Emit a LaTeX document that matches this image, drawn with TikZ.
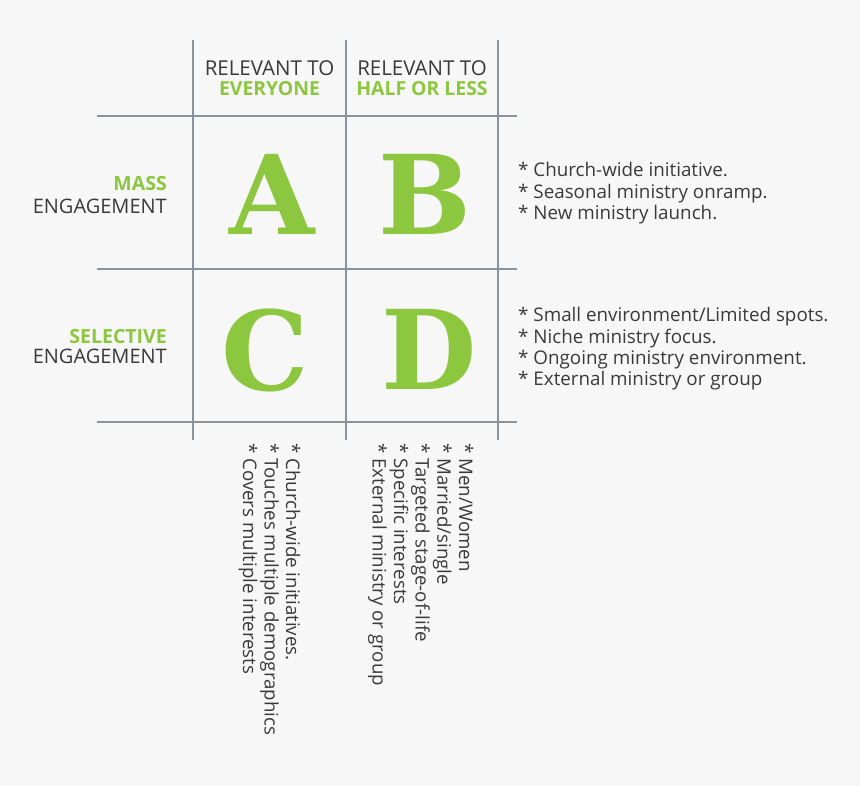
\documentclass[tikz,border=0pt]{standalone}
\usepackage{fontspec}
\setmainfont{Open Sans}
\newfontfamily\letterfont{DejaVu Serif}
\definecolor{bgc}{HTML}{F7F7F7}
\definecolor{gridc}{HTML}{8A939B}
\definecolor{greenc}{HTML}{8DC63F}
\definecolor{textc}{HTML}{3A3A3A}
\begin{document}
\begin{tikzpicture}[x=1pt,y=-1pt,
  gridline/.style={draw=gridc,line width=2.6pt},
  bigletter/.style={text=greenc,inner sep=0pt,anchor=base,font=\letterfont\bfseries\fontsize{110}{110}\selectfont},
  headlight/.style={text=textc,inner sep=0pt,anchor=base,font=\fontsize{20.5}{24}\selectfont},
  headbold/.style={text=greenc,inner sep=0pt,anchor=base,font=\bfseries\fontsize{19.4}{24}\selectfont},
  rowlight/.style={text=textc,inner sep=0pt,anchor=base east,font=\fontsize{20}{24}\selectfont},
  rowbold/.style={text=greenc,inner sep=0pt,anchor=base east,font=\bfseries\fontsize{19.5}{24}\selectfont},
  sidenote/.style={text=textc,inner sep=0pt,anchor=base west,font=\fontsize{18.8}{22}\selectfont},
  rotnote/.style={text=textc,inner sep=0pt,anchor=base west,rotate=-90,font=\fontsize{18.7}{22}\selectfont}]
\fill[bgc] (0,0) rectangle (860,786);
\useasboundingbox (0,0) rectangle (860,786);
% grid
\foreach \xx in {193,346,498} \draw[gridline] (\xx,40) -- (\xx,440);
\foreach \yy in {116,269,422} \draw[gridline] (97,\yy) -- (517,\yy);
% headers
\node[headlight] (h1a) at (269.5,75.7) {RELEVANT TO};
\node[headbold]  (h1b) at (269.5,96) {EVERYONE};
\node[headlight] (h2a) at (422,75.7) {RELEVANT TO};
\node[headbold]  (h2b) at (422,96) {HALF OR LESS};
% row labels
\node[rowbold]  (r1a) at (167,190.7) {MASS};
\node[rowlight] (r1b) at (167,213.3) {ENGAGEMENT};
\node[rowbold]  (r2a) at (167,343.3) {SELECTIVE};
\node[rowlight] (r2b) at (167,364) {ENGAGEMENT};
% letters
\node[bigletter] (la) at (272,235) {A};
\node[bigletter] (lb) at (425,235) {B};
\node[bigletter] (lc) at (265,391) {C};
\node[bigletter] (ld) at (429,390) {D};
% side notes
\node[sidenote] (s1) at (518,176.7) {* Church-wide initiative.};
\node[sidenote] (s2) at (518,198.3) {* Seasonal ministry onramp.};
\node[sidenote] (s3) at (518,219.7) {* New ministry launch.};
\node[sidenote] (s4) at (518,321.7) {* Small environment/Limited spots.};
\node[sidenote] (s5) at (518,343.3) {* Niche ministry focus.};
\node[sidenote] (s6) at (518,364.5) {* Ongoing ministry environment.};
\node[sidenote] (s7) at (518,386) {* External ministry or group};
% rotated notes
\node[rotnote] (c1) at (286,443) {* Church-wide initiatives.};
\node[rotnote] (c2) at (264.5,443) {* Touches multiple demographics};
\node[rotnote] (c3) at (243,443) {* Covers multiple interests};
\node[rotnote] (d1) at (459,443) {* Men/Women};
\node[rotnote] (d2) at (437.3,443) {* Married/single};
\node[rotnote] (d3) at (415.6,443) {* Targeted stage-of-life};
\node[rotnote] (d4) at (394,443) {* Specific interests};
\node[rotnote] (d5) at (372.5,443) {* External ministry or group};
\end{tikzpicture}
\end{document}
